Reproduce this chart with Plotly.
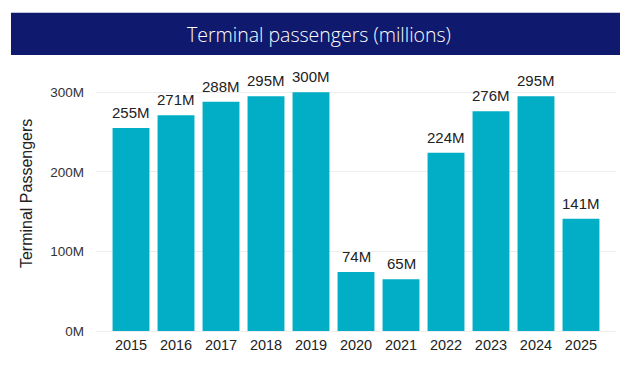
import plotly.graph_objects as go

years = ["2015", "2016", "2017", "2018", "2019", "2020", "2021", "2022", "2023", "2024", "2025"]
passengers_m = [255, 271, 288, 295, 300, 74, 65, 224, 276, 295, 141]
y_ticks = [0, 100, 200, 300]
y_tick_text = ["0M", "100M", "200M", "300M"]

BAR = "#01AEC6"
NAVY = "#0F1A6E"
FONT = "Liberation Sans, Arial, sans-serif"

fig = go.Figure(go.Bar(
    x=years, y=passengers_m,
    marker=dict(color=BAR, line=dict(width=0)),
    hoverinfo="x+y",
))

# value labels, placed on the category axis by category index
label_annotations = [
    dict(x=i, y=v, xref="x", yref="y", text=f"{v}M", showarrow=False,
         xanchor="center", yanchor="bottom", yshift=5,
         font=dict(family=FONT, size=15, color="#222222"))
    for i, v in enumerate(passengers_m)
]

fig.update_layout(
    width=620, height=359,
    margin=dict(l=88, r=12, t=67, b=36),
    paper_bgcolor="white", plot_bgcolor="white",
    bargap=0.18,
    showlegend=False,
    xaxis=dict(
        type="category", range=[-0.778, 10.778],
        showgrid=False, showline=False, zeroline=False,
        tickfont=dict(family=FONT, size=14.5, color="#222222"),
        ticks="", ticklabelstandoff=3,
    ),
    yaxis=dict(
        range=[0, 321.7],
        tickvals=y_ticks, ticktext=y_tick_text,
        showgrid=True, gridcolor="#EEEEEE", gridwidth=1,
        zeroline=True, zerolinecolor="#EEEEEE", zerolinewidth=1,
        showline=False, ticks="",
        ticklabelstandoff=11,
        tickfont=dict(family=FONT, size=13.5, color="#333333"),
    ),
    shapes=[dict(
        type="rect", xref="paper", yref="paper",
        x0=-0.1635, x1=1.0135, y0=1.078, y1=1.2434,
        fillcolor=NAVY, line=dict(width=0), layer="above",
    )],
    annotations=[
        dict(text="Terminal passengers (millions)", xref="paper", yref="paper",
             x=0.428, y=1.16, showarrow=False, xanchor="center", yanchor="middle",
             font=dict(family="Open Sans, sans-serif", size=19.5, color="white", weight=300)),
        dict(text="Terminal Passengers", xref="paper", yref="paper",
             x=-0.1346, y=0.535, showarrow=False, textangle=-90,
             xanchor="center", yanchor="middle",
             font=dict(family=FONT, size=16, color="#222222")),
    ] + label_annotations,
)

fig.write_html("out.html")
